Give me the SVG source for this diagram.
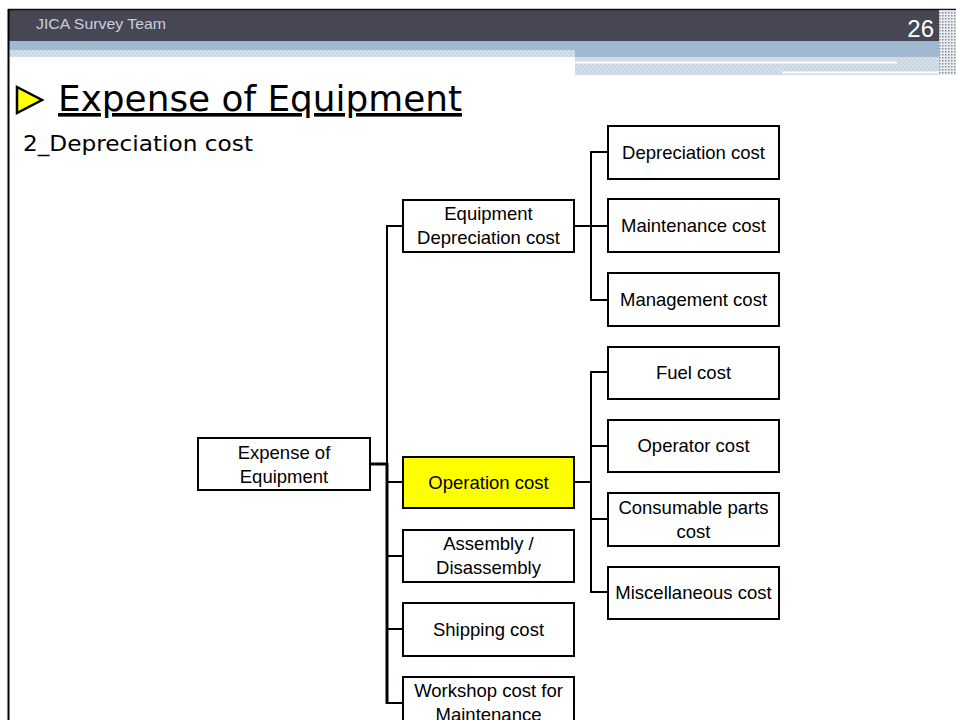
<svg xmlns="http://www.w3.org/2000/svg" width="956" height="720" viewBox="0 0 956 720">
<defs>
<pattern id="hatch" width="4" height="4" patternUnits="userSpaceOnUse">
<rect width="4" height="4" fill="#d6e0ea"/>
<rect width="2" height="2" fill="#c8d5e3"/>
<rect x="2" y="2" width="2" height="2" fill="#c8d5e3"/>
</pattern>
<pattern id="dots" width="3" height="3" patternUnits="userSpaceOnUse">
<rect width="3" height="3" fill="#e8ecf0"/>
<rect width="1.5" height="1.5" fill="#8a8f98"/>
</pattern>
<style>
.box{fill:#fff;stroke:#000;stroke-width:2}
.hl{fill:#ffff00;stroke:#000;stroke-width:2}
.t{font-family:"Liberation Sans",Arial,sans-serif;font-size:18.5px;fill:#000;text-anchor:middle}
.c{stroke:#000;stroke-width:2;fill:none}
.ct{stroke:#000;stroke-width:3;fill:none}
</style>
</defs>
<rect width="956" height="720" fill="#fff"/>
<!-- header -->
<rect x="8" y="9" width="948" height="32" fill="#464655"/>
<line x1="8" y1="9.5" x2="956" y2="9.5" stroke="#111" stroke-width="1.5"/>
<rect x="9" y="41" width="930" height="9" fill="#a0b8d0"/>
<rect x="9" y="50" width="566" height="7" fill="url(#hatch)"/>
<rect x="575" y="41" width="364" height="16" fill="#a0b8d0"/>
<rect x="575" y="57" width="364" height="18" fill="url(#hatch)"/>
<line x1="575" y1="62.5" x2="897" y2="62.5" stroke="#fff" stroke-width="2"/>
<line x1="782" y1="72.5" x2="950" y2="72.5" stroke="#fff" stroke-width="2"/>
<rect x="939" y="10" width="17" height="65" fill="url(#dots)"/>
<text x="36" y="28.5" font-family="Liberation Sans,Arial,sans-serif" font-size="14.5" fill="#c8d0de" textLength="130" lengthAdjust="spacingAndGlyphs">JICA Survey Team</text>
<text x="934" y="37" font-family="Liberation Sans,Arial,sans-serif" font-size="24" fill="#fff" text-anchor="end">26</text>
<!-- left border -->
<line x1="8.5" y1="9" x2="8.5" y2="720" stroke="#000" stroke-width="2"/>
<!-- title -->
<polygon points="17,87 42,100 17,113" fill="#ffff00" stroke="#000" stroke-width="2.5" stroke-linejoin="miter"/>
<text x="58" y="111" font-family="DejaVu Sans Condensed,DejaVu Sans,sans-serif" font-size="36" fill="#000" text-decoration="underline" textLength="404" lengthAdjust="spacingAndGlyphs">Expense of Equipment</text>
<text x="23" y="151" font-family="DejaVu Sans,Verdana,sans-serif" font-size="21" fill="#000" textLength="230" lengthAdjust="spacingAndGlyphs">2_Depreciation cost</text>
<!-- connectors -->
<g id="connectors">
<line class="ct" x1="370" y1="464" x2="387" y2="464"/>
<line class="c" x1="387" y1="225" x2="387" y2="464"/>
<line class="ct" x1="387" y1="463" x2="387" y2="704"/>
<line class="c" x1="386" y1="226" x2="403" y2="226"/>
<line class="c" x1="387" y1="482" x2="403" y2="482"/>
<line class="c" x1="387" y1="556" x2="403" y2="556"/>
<line class="c" x1="387" y1="629" x2="403" y2="629"/>
<line class="c" x1="387" y1="703" x2="403" y2="703"/>
<line class="c" x1="574" y1="226" x2="608" y2="226"/>
<polyline class="c" points="608,152 591,152 591,300 608,300"/>
<line class="c" x1="574" y1="482" x2="591" y2="482"/>
<polyline class="c" points="608,372 591,372 591,592 608,592"/>
<line class="c" x1="591" y1="446" x2="608" y2="446"/>
<line class="c" x1="591" y1="519" x2="608" y2="519"/>
</g>
<!-- nodes -->
<g id="n-root"><rect class="box" x="198" y="438" width="172" height="52"/><text class="t" x="284" y="458.5">Expense of</text><text class="t" x="284" y="482.5">Equipment</text></g>
<g id="n-eqdep"><rect class="box" x="403" y="200" width="171" height="52"/><text class="t" x="488.5" y="219.5">Equipment</text><text class="t" x="488.5" y="244">Depreciation cost</text></g>
<g id="n-operation"><rect class="hl" x="403" y="457" width="171" height="51"/><text class="t" x="488.5" y="488.5">Operation cost</text></g>
<g id="n-assembly"><rect class="box" x="403" y="530" width="171" height="52"/><text class="t" x="488.5" y="550">Assembly /</text><text class="t" x="488.5" y="574">Disassembly</text></g>
<g id="n-shipping"><rect class="box" x="403" y="603" width="171" height="53"/><text class="t" x="488.5" y="635.5">Shipping cost</text></g>
<g id="n-workshop"><rect class="box" x="403" y="677" width="171" height="52"/><text class="t" x="488.5" y="697">Workshop cost for</text><text class="t" x="488.5" y="721">Maintenance</text></g>
<g id="n-depcost"><rect class="box" x="608" y="126" width="171" height="53"/><text class="t" x="693.5" y="158.5">Depreciation cost</text></g>
<g id="n-maint"><rect class="box" x="608" y="199" width="171" height="53"/><text class="t" x="693.5" y="232">Maintenance cost</text></g>
<g id="n-mgmt"><rect class="box" x="608" y="273" width="171" height="53"/><text class="t" x="693.5" y="305.5">Management cost</text></g>
<g id="n-fuel"><rect class="box" x="608" y="347" width="171" height="52"/><text class="t" x="693.5" y="379">Fuel cost</text></g>
<g id="n-operator"><rect class="box" x="608" y="420" width="171" height="52"/><text class="t" x="693.5" y="452">Operator cost</text></g>
<g id="n-consumable"><rect class="box" x="608" y="493" width="171" height="53"/><text class="t" x="693.5" y="513.5">Consumable parts</text><text class="t" x="693.5" y="537.5">cost</text></g>
<g id="n-misc"><rect class="box" x="608" y="567" width="171" height="52"/><text class="t" x="693.5" y="599">Miscellaneous cost</text></g>
</svg>
